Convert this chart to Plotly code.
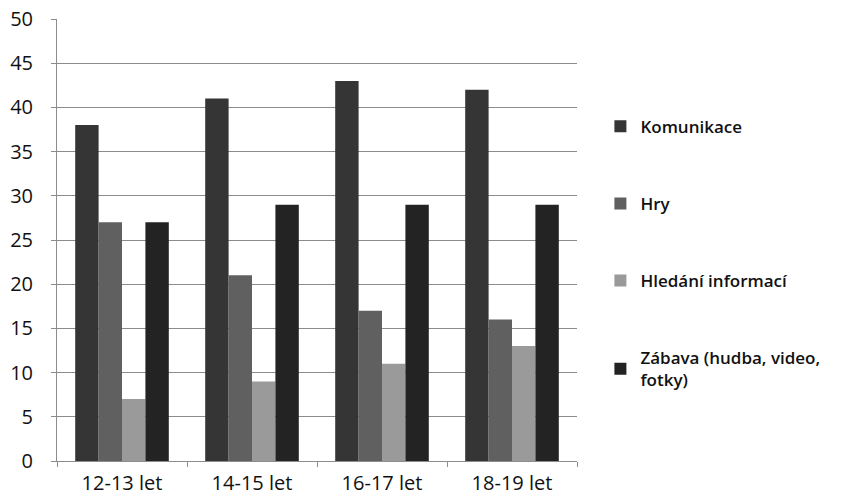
import plotly.graph_objects as go

# Age groups and usage shares per activity
categories = ["12-13 let", "14-15 let", "16-17 let", "18-19 let"]
komunikace = [38, 41, 43, 42]
hry = [27, 21, 17, 16]
hledani = [7, 9, 11, 13]
zabava = [27, 29, 29, 29]

series = [
    ("Komunikace", komunikace, "#353535"),
    ("Hry", hry, "#606060"),
    ("Hledání informací", hledani, "#9a9a9a"),
    ("Zábava (hudba, video,<br>fotky)", zabava, "#232323"),
]

fig = go.Figure()
for i, (name, vals, color) in enumerate(series):
    fig.add_trace(go.Bar(
        x=categories, y=vals, name=name,
        marker=dict(color=color, line=dict(width=0)),
        legendgroup=f"g{i}",
    ))

font_family = "Open Sans, Liberation Sans, sans-serif"

fig.update_layout(
    width=855, height=502,
    margin=dict(l=57, r=278, t=19, b=41, autoexpand=False),
    paper_bgcolor="white", plot_bgcolor="white",
    barmode="group", bargap=0.28, bargroupgap=0,
    font=dict(family=font_family, color="#111111"),
    showlegend=True,
    legend=dict(
        x=1.045, y=0.797, xanchor="left", yanchor="top",
        font=dict(size=17, weight=600, color="#111111"),
        tracegroupgap=52, itemwidth=30,
        bgcolor="rgba(0,0,0,0)",
    ),
    xaxis=dict(
        automargin=False,
        showline=True, linecolor="#8c8c8c", linewidth=1,
        ticks="outside", ticklen=5, tickcolor="#8c8c8c",
        tickson="boundaries", showgrid=False,
        tickfont=dict(size=20, color="#111111"),
        ticklabelstandoff=4,
    ),
    yaxis=dict(
        automargin=False,
        range=[0, 50], dtick=5, tick0=0,
        showline=True, linecolor="#8c8c8c", linewidth=1,
        ticks="outside", ticklen=5, tickcolor="#8c8c8c",
        showgrid=True, gridcolor="#8c8c8c", gridwidth=1,
        zeroline=False,
        tickfont=dict(size=20, color="#111111"),
        ticklabelstandoff=14,
    ),
)

fig.write_html("out.html")
